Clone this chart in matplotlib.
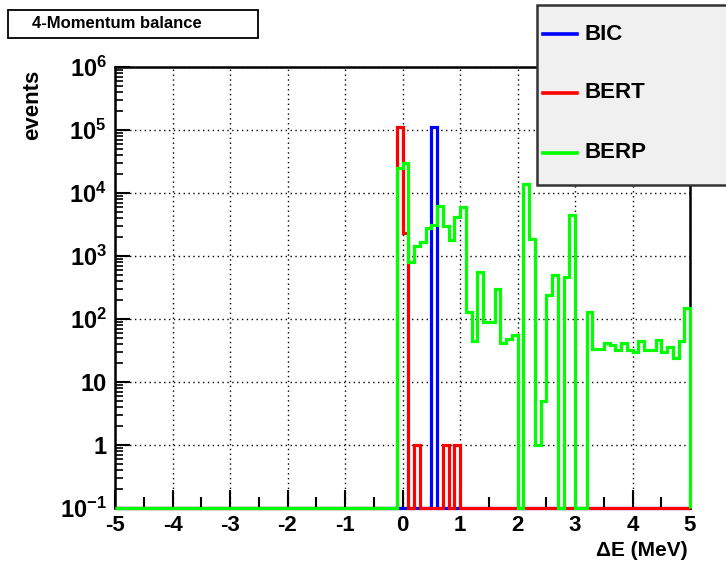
import matplotlib
matplotlib.use("Agg")
import matplotlib.pyplot as plt
import numpy as np
from matplotlib.patches import Rectangle
from matplotlib.lines import Line2D
from matplotlib.ticker import LogLocator, MultipleLocator, NullFormatter

plt.rcParams['font.family'] = ['Liberation Sans', 'DejaVu Sans']
plt.rcParams['font.weight'] = 'bold'
plt.rcParams['mathtext.fontset'] = 'custom'
plt.rcParams['mathtext.rm'] = 'Liberation Sans:bold'
plt.rcParams['mathtext.it'] = 'Liberation Sans:bold'
plt.rcParams['mathtext.bf'] = 'Liberation Sans:bold'

# histogram binning: 100 bins from -5 to 5 MeV
x_lo, x_hi, n_bins = -5.0, 5.0, 100
first_bin = 49          # values below start at bin [-0.1, 0]

# counts per bin from [-0.1,0] up to [4.9,5.0]  (everything left of -0.1 is empty)
bic_vals = [0, 0, 0, 0, 0, 0, 113000, 0, 0, 0,
            0, 0, 0, 0, 0, 0, 0, 0, 0, 0,
            0, 0, 0, 0, 0, 0, 0, 0, 0, 0,
            0, 0, 0, 0, 0, 0, 0, 0, 0, 0,
            0, 0, 0, 0, 0, 0, 0, 0, 0, 0, 0]
bert_vals = [113000, 2300, 0, 1, 0, 0, 0, 0, 1, 0,
             1, 0, 0, 0, 0, 0, 0, 0, 0, 0,
             0, 0, 0, 0, 0, 0, 0, 0, 0, 0,
             0, 0, 0, 0, 0, 0, 0, 0, 0, 0,
             0, 0, 0, 0, 0, 0, 0, 0, 0, 0, 0]
berp_vals = [24500, 29500, 800, 1450, 1650, 2750, 3150, 6200, 3000, 1800,
             4200, 6000, 130, 45, 565, 90, 90, 300, 42, 48,
             55, 0, 13700, 1870, 1, 5, 240, 500, 0, 460,
             4500, 0, 0, 128, 33, 33, 42, 39, 32, 42,
             32, 30, 45, 32, 32, 46, 30, 36, 24, 44, 150]

names = ['BIC', 'BERT', 'BERP']
colors = ['#0000ff', '#ff0000', '#00ff00']
series = [bic_vals, bert_vals, berp_vals]

y_min, y_max = 0.1, 1e6
edges = np.linspace(x_lo, x_hi, n_bins + 1)

fig = plt.figure(figsize=(7.26, 5.67), dpi=100)
ax = fig.add_axes([115/726, 1-508/567, 575/726, 441/567])

for i, (vals, col) in enumerate(zip(series, colors)):
    counts = np.zeros(n_bins)
    counts[first_bin:] = vals
    # empty bins sit on the axis floor, like ROOT does on a log scale
    counts = np.where(counts > 0, counts, y_min)
    ax.stairs(counts, edges, baseline=y_min, color=col, lw=2.3,
              zorder=3 + i*0.1, clip_on=False)

ax.set_yscale('log')
ax.set_xlim(x_lo, x_hi)
ax.set_ylim(y_min, y_max)

xt = np.arange(-5, 6)
ax.set_xticks(xt)
ax.set_xticklabels([str(v) for v in xt])
ax.xaxis.set_minor_locator(MultipleLocator(0.5))

yt = [0.1, 1, 10, 1e2, 1e3, 1e4, 1e5, 1e6]
ytl = ['$10^{-1}$', '1', '10', '$10^{2}$', '$10^{3}$', '$10^{4}$', '$10^{5}$', '$10^{6}$']
ax.set_yticks(yt)
ax.set_yticklabels(ytl)
ax.yaxis.set_minor_locator(LogLocator(base=10, subs=range(2, 10), numticks=20))
ax.yaxis.set_minor_formatter(NullFormatter())

ax.tick_params(axis='x', which='major', direction='in', length=13, width=1.5,
               labelsize=16, pad=5)
ax.tick_params(axis='x', which='minor', direction='in', length=8, width=1.5)
ax.tick_params(axis='y', which='major', direction='in', length=11, width=1.5,
               labelsize=17, pad=6)
ax.tick_params(axis='y', which='minor', direction='in', length=6, width=1.2)

for s in ax.spines.values():
    s.set_linewidth(1.8)

ax.grid(True, which='major', color='black', lw=1.0, linestyle=(0, (1, 2.5)))

fig.text(0.045, 1-70/567, 'events', rotation=90, ha='center', va='top',
         fontsize=16, fontweight='bold')
fig.text(688/726, 1-551/567, '\u0394E (MeV)', ha='right', va='center',
         fontsize=15, fontweight='bold')

# title box
fig.add_artist(Rectangle((8/726, 1-38/567), 250/726, 28/567,
                         transform=fig.transFigure, fc='white', ec='black', lw=1.3))
fig.text(32/726, 1-24/567, '4-Momentum balance', ha='left', va='center',
         fontsize=12, fontweight='bold')

# legend box (runs off the right edge like the original)
fig.add_artist(Rectangle((537/726, 1-185/567), 200/726, 180/567,
                         transform=fig.transFigure, fc='#f0f0f0', ec='#333333', lw=1.8))
leg_y = [34, 93, 153]
for name, col, y in zip(names, colors, leg_y):
    fig.add_artist(Line2D([543/726, 577/726], [1-y/567, 1-y/567],
                          transform=fig.transFigure, color=col, lw=2.6))
    fig.text(585/726, 1-y/567, name, ha='left', va='center',
             fontsize=16, fontweight='bold')

fig.savefig('out.png', dpi=100)
